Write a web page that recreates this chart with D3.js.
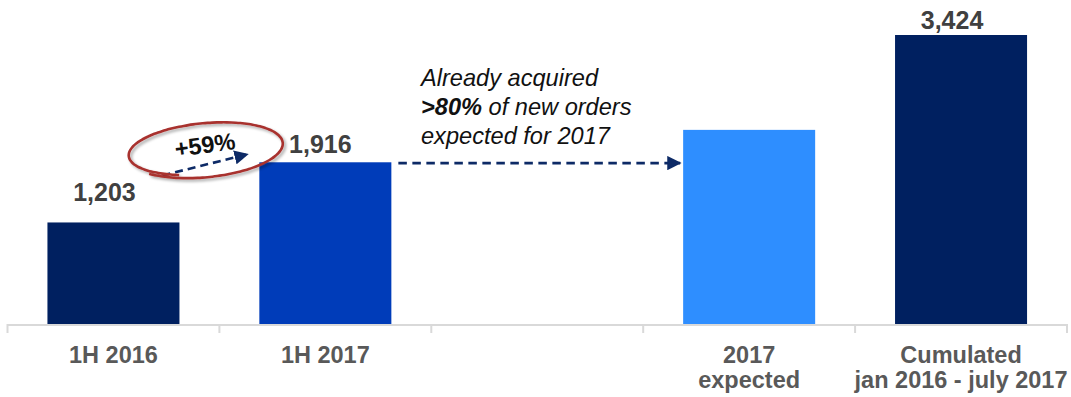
<!DOCTYPE html>
<html><head><meta charset="utf-8">
<script src="https://cdn.jsdelivr.net/npm/d3@7"></script>
<style>
html,body{margin:0;padding:0;background:#fff;}
svg{display:block;font-family:"Liberation Sans",Arial,sans-serif;}
</style></head>
<body>
<svg id="chart" width="1071" height="397"></svg>
<script>
// ---- data ----
const categories = ["1H 2016", "1H 2017", "", "2017 expected", "Cumulated"];
const categoryLines = [["1H 2016"], ["1H 2017"], [], ["2017", "expected"], ["Cumulated", "jan 2016 - july 2017"]];
const values = [1203, 1916, null, 2300, 3424];
const valueLabels = ["1,203", "1,916", "", "", "3,424"];
const growthLabel = "+59%";
const noteLines = [["Already acquired"], [">80%", " of new orders"], ["expected for 2017"]];

// ---- layout ----
const W = 1071, H = 397;
const svg = d3.select("#chart");
const baseY = 324;
const x = d3.scaleBand().domain(categories).range([7.5, 1067]).paddingInner(0.377).paddingOuter(0.1885);
const y = d3.scaleLinear().domain([0, 3424]).range([baseY, 35]);
const barColors = ["#002060", "#003cb9", null, "#2e8eff", "#002060"];
const labelNudge = {"1H 2016": [-9, -21], "1H 2017": [-5, -9.5], "Cumulated": [-9, -6.5]};

const defs = svg.append("defs");
defs.append("marker").attr("id", "arr").attr("viewBox", "0 0 10 10").attr("refX", 9).attr("refY", 5)
  .attr("markerWidth", 5.5).attr("markerHeight", 5.5).attr("orient", "auto").attr("markerUnits", "strokeWidth")
  .append("path").attr("d", "M0,0 L10,5 L0,10 z").attr("fill", "#0d2a66");
const f = defs.append("filter").attr("id", "sh").attr("x", "-20%").attr("y", "-40%").attr("width", "140%").attr("height", "180%");
f.append("feGaussianBlur").attr("in", "SourceAlpha").attr("stdDeviation", 1.5).attr("result", "b");
f.append("feOffset").attr("in", "b").attr("dx", 1.5).attr("dy", 2).attr("result", "o");
f.append("feComponentTransfer").attr("in", "o").attr("result", "o2").append("feFuncA").attr("type", "linear").attr("slope", 0.35);
const fm = f.append("feMerge"); fm.append("feMergeNode").attr("in", "o2"); fm.append("feMergeNode").attr("in", "SourceGraphic");

// bars
const data = categories.map((c, i) => ({c, v: values[i], col: barColors[i], lab: valueLabels[i], lines: categoryLines[i]}));
svg.selectAll("rect.bar").data(data.filter(d => d.v != null)).enter().append("rect")
  .attr("class", "bar")
  .attr("x", d => x(d.c)).attr("width", x.bandwidth())
  .attr("y", d => y(d.v)).attr("height", d => baseY - y(d.v))
  .attr("fill", d => d.col);

// axis line and ticks at band boundaries
const step = x.step();
const edges = d3.range(categories.length + 1).map(i => x(categories[0]) - (step - x.bandwidth()) / 2 + i * step);
svg.append("line").attr("x1", edges[0]).attr("x2", edges[edges.length - 1]).attr("y1", baseY + 1).attr("y2", baseY + 1)
  .attr("stroke", "#d9d9d9").attr("stroke-width", 2);
svg.selectAll("line.tk").data(edges).enter().append("line").attr("class", "tk")
  .attr("x1", d => d).attr("x2", d => d).attr("y1", baseY).attr("y2", baseY + 9)
  .attr("stroke", "#d9d9d9").attr("stroke-width", 2);

// category labels
data.forEach(d => {
  d.lines.forEach((t, j) => {
    svg.append("text").attr("x", x(d.c) + x.bandwidth() / 2).attr("y", 363 + j * 24.5)
      .attr("text-anchor", "middle").attr("font-size", 23.5).attr("font-weight", "bold").attr("fill", "#595959").text(t);
  });
});

// value labels
data.filter(d => d.lab).forEach(d => {
  const n = labelNudge[d.c] || [0, -8];
  svg.append("text").attr("x", x(d.c) + x.bandwidth() / 2 + n[0]).attr("y", y(d.v) + n[1])
    .attr("text-anchor", "middle").attr("font-size", 25).attr("font-weight", "bold").attr("fill", "#404040").text(d.lab);
});

// long dashed arrow from 1H 2017 to 2017 expected
const yA = y(values[1]) + 0.8;
svg.append("line").attr("x1", x(categories[1]) + x.bandwidth() + 7).attr("x2", x(categories[3]) - 3)
  .attr("y1", yA).attr("y2", yA).attr("stroke", "#0d2a66").attr("stroke-width", 2.6)
  .attr("stroke-dasharray", "8.5,5.5").attr("marker-end", "url(#arr)");

// note text
const note = svg.append("g");
noteLines.forEach((parts, j) => {
  const t = note.append("text").attr("x", 421).attr("y", 86 + j * 29).attr("font-size", 23.6).attr("font-style", "italic").attr("fill", "#111");
  parts.forEach((p, k) => {
    t.append("tspan").attr("font-weight", (j === 1 && k === 0) ? "bold" : "normal").text(p);
  });
});

// growth annotation
const x1s = x(categories[0]) + x.bandwidth() - 17, y1s = y(values[0]) - 47;
const x2s = x(categories[1]) - 8, y2s = y(values[1]) - 9;
svg.append("line").attr("x1", x1s).attr("y1", y1s).attr("x2", x2s - 4).attr("y2", y2s + 1)
  .attr("stroke", "#0d2a66").attr("stroke-width", 2.6).attr("stroke-dasharray", "8,5").attr("marker-end", "url(#arr)");
svg.append("text").attr("transform", "translate(206,153) rotate(-8)").attr("text-anchor", "middle")
  .attr("font-size", 23.5).attr("font-weight", "bold").attr("fill", "#111").text(growthLabel);
// hand drawn ellipse
const cx = 205, cy = 149.5;
const pts = d3.range(0, 1.08, 0.01).map(t => {
  const a = Math.PI * 0.62 + t * 2 * Math.PI;
  const rx = 76 + 3 * t, ry = 25 + 3 * t;
  const px = rx * Math.cos(a), py = ry * Math.sin(a);
  const r = -5 * Math.PI / 180;
  return [cx + px * Math.cos(r) - py * Math.sin(r), cy + px * Math.sin(r) + py * Math.cos(r)];
});
svg.append("path").attr("d", d3.line().curve(d3.curveBasis)(pts)).attr("fill", "none")
  .attr("stroke", "#a8302e").attr("stroke-width", 2.6).attr("filter", "url(#sh)");
</script>
</body></html>
